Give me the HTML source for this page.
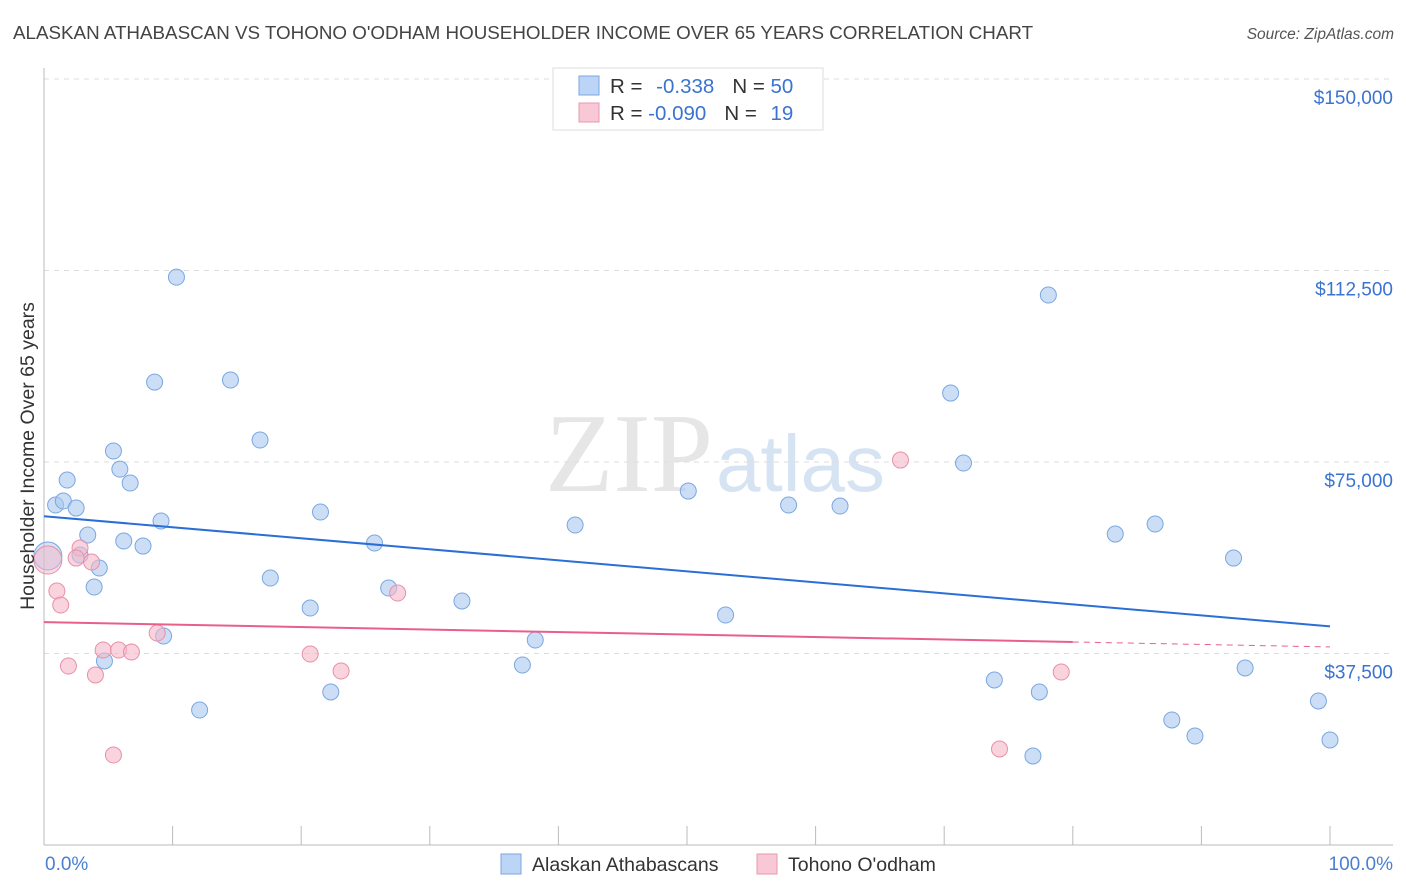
<!DOCTYPE html>
<html><head><meta charset="utf-8"><style>
body{margin:0;background:#fff;font-family:"Liberation Sans",sans-serif;}
svg{display:block}
</style></head><body>
<svg id="chart" width="1406" height="892" xmlns="http://www.w3.org/2000/svg">
<text x="13" y="39" font-size="18.8" fill="#444">ALASKAN ATHABASCAN VS TOHONO O'ODHAM HOUSEHOLDER INCOME OVER 65 YEARS CORRELATION CHART</text>
<text x="1394" y="39" font-size="15.5" fill="#555" font-style="italic" text-anchor="end">Source: ZipAtlas.com</text>
<text x="713" y="491" font-size="112" fill="#e6e6e6" text-anchor="end" font-family="Liberation Serif,serif">ZIP</text>
<text x="716" y="491" font-size="80" fill="#d6e3f3">atlas</text>
<g id="grid"></g>
<g id="axes"></g>
<g id="marks"></g>
<text x="34" y="456" font-size="19.5" fill="#333" text-anchor="middle" transform="rotate(-90 34 456)">Householder Income Over 65 years</text>
<text x="45" y="870" font-size="19" fill="#4a7fd0">0.0%</text>
<text x="1393" y="870" font-size="19" fill="#4a7fd0" text-anchor="end">100.0%</text>
<g>
<rect x="501" y="854" width="20" height="20" fill="#bcd4f5" stroke="#7aa7e0"/>
<text x="532" y="871" font-size="19.5" fill="#333">Alaskan Athabascans</text>
<rect x="757" y="854" width="20" height="20" fill="#f8c8d6" stroke="#e898b0"/>
<text x="788" y="871" font-size="19.5" fill="#333">Tohono O'odham</text>
</g>
<g>
<rect x="553" y="68" width="270" height="62" fill="#fff" stroke="#ddd"/>
<rect x="579" y="76" width="20" height="19" fill="#bcd4f5" stroke="#7aa7e0"/>
<rect x="579" y="103" width="20" height="19" fill="#f8c8d6" stroke="#e898b0"/>
<text x="610" y="93" font-size="20.5" fill="#333">R = <tspan fill="#3a73d0" dx="8">-0.338</tspan><tspan fill="#333" dx="18">N = </tspan><tspan fill="#3a73d0">50</tspan></text>
<text x="610" y="120" font-size="20.5" fill="#333">R = <tspan fill="#3a73d0">-0.090</tspan><tspan fill="#333" dx="18">N = </tspan><tspan fill="#3a73d0" dx="8">19</tspan></text>
</g>
</svg>
<script>
const yTicks=[37500,75000,112500,150000];
const yTickLabels=["$37,500","$75,000","$112,500","$150,000"];
const blueX=[10.3,8.6,14.5,16.8,5.4,5.9,1.8,6.7,0.9,1.5,2.5,9.1,3.4,6.2,7.7,21.5,25.7,2.8,4.3,3.9,17.6,20.7,26.8,32.5,9.3,4.7,22.3,12.1,38.2,37.2,41.3,50.1,57.9,61.9,53.0,70.5,71.5,78.1,83.3,86.4,92.5,73.9,77.4,76.9,87.7,89.5,93.4,99.1,100,0.3];
const blueY=[111200,90650,91050,79300,77150,73600,71470,70880,66570,67360,65980,63440,60700,59520,58540,65200,59130,56780,54240,50520,52280,46400,50320,47780,40920,36030,29960,26430,40140,35240,62660,69310,66570,66380,45030,88500,74800,107700,60890,62850,56190,32310,29960,17430,24480,21340,34660,28200,20560,56590];
const pinkX=[0.3,1.0,1.3,2.8,2.5,3.7,1.9,4.0,4.6,5.8,6.8,5.4,8.8,20.7,23.1,27.5,66.6,74.3,79.1];
const pinkY=[55800,49730,46990,58150,56190,55410,35050,33290,38180,38180,37790,17620,41510,37400,34070,49340,75380,18800,33870];
const X0=44,X1=1330,Y0=845,PX_PER=191.5/37500;
const xs=v=>X0+(X1-X0)*v/100;
const ys=v=>Y0-v*PX_PER;
const NS="http://www.w3.org/2000/svg";
function mk(tag,attrs,parent){const e=document.createElementNS(NS,tag);for(const k in attrs)e.setAttribute(k,attrs[k]);parent.appendChild(e);return e;}
const grid=document.getElementById('grid'),axes=document.getElementById('axes'),marks=document.getElementById('marks');
yTicks.forEach((t,i)=>{
  const g=mk('line',{x1:44,x2:1393,y1:ys(t),y2:ys(t),stroke:'#ddd','stroke-dasharray':'5,5'},grid);
  
  
  const l=mk('text',{x:1393,y:ys(t)+25,'font-size':19,fill:'#3a73d0','text-anchor':'end'},axes);
  l.textContent=yTickLabels[i];
  
  
});
const ax=mk('line',{x1:44,x2:1393,y1:Y0,y2:Y0,stroke:'#bbb'},axes);


const ay=mk('line',{x1:44,x2:44,y1:68,y2:Y0,stroke:'#bbb'},axes);


for(let i=0;i<=10;i++){
  const t=mk('line',{x1:xs(i*10),x2:xs(i*10),y1:826,y2:Y0,stroke:'#bbb'},axes);
  
  
}
function fit(X,Y){const n=X.length;let mx=0,my=0;for(let i=0;i<n;i++){mx+=X[i];my+=Y[i];}mx/=n;my/=n;let sxy=0,sxx=0;for(let i=0;i<n;i++){sxy+=(X[i]-mx)*(Y[i]-my);sxx+=(X[i]-mx)**2;}const b=sxy/sxx;return [my-b*mx,b];}
const [ba,bb]=fit(blueX,blueY),[pa,pb]=fit(pinkX,pinkY);
function dots(X,Y,fill,stroke,name){X.forEach((v,i)=>{
  const big=(v<=0.5);
  const c=mk('circle',{cx:xs(v),cy:ys(Y[i]),r:big?14:8,fill:fill,'fill-opacity':big?0.5:0.6,stroke:stroke,'stroke-width':1},marks);
  
  
});}
dots(blueX,blueY,'#a9c8f0','#7aa7e0','point-alaskan');
dots(pinkX,pinkY,'#f5b8c8','#e890a8','point-tohono');
const bl=mk('line',{x1:xs(0),y1:ys(ba),x2:xs(100),y2:ys(ba+bb*100),stroke:'#2a6fd6','stroke-width':2},marks);


const pl=mk('line',{x1:xs(0),y1:ys(pa),x2:xs(80),y2:ys(pa+pb*80),stroke:'#e8608a','stroke-width':2},marks);


const pd=mk('line',{x1:xs(80),y1:ys(pa+pb*80),x2:xs(100),y2:ys(pa+pb*100),stroke:'#e8608a','stroke-width':1,'stroke-dasharray':'6,5'},marks);


</script>
</body></html>
